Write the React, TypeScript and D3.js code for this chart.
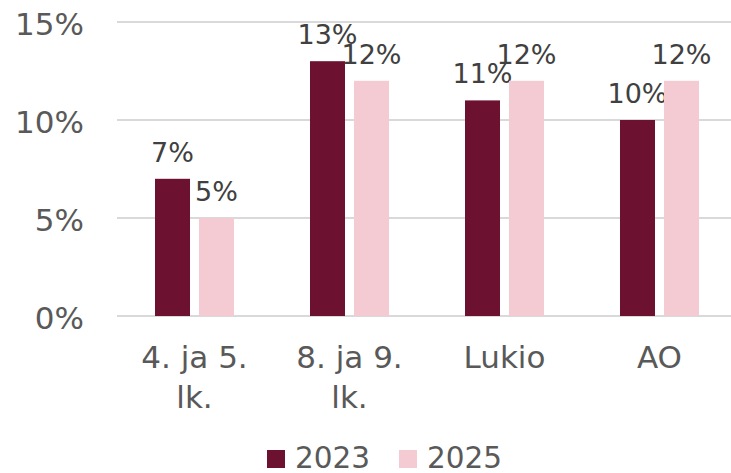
import React from "react";
import * as d3 from "d3";

const categories: string[][] = [["4. ja 5.", "lk."], ["8. ja 9.", "lk."], ["Lukio"], ["AO"]];
const categoryKeys = ["4. ja 5. lk.", "8. ja 9. lk.", "Lukio", "AO"];
const seriesNames = ["2023", "2025"];
const values2023 = [0.07, 0.13, 0.11, 0.10];
const values2025 = [0.05, 0.12, 0.12, 0.12];
const yTicks = [0, 0.05, 0.1, 0.15];
const colors = ["#6d1130", "#f4cbd3"];

const W = 731;
const H = 473;
const FONT = "'DejaVu Sans', Verdana, sans-serif";
const TEXT = "#595959";

export default function App() {
  const y = d3.scaleLinear().domain([0, 0.15]).range([316, 22]);
  const x = d3.scaleBand<string>().domain(categoryKeys).range([117, 737]).paddingInner(0.4903).paddingOuter(0.24516);
  const xs = d3.scaleBand<string>().domain(seriesNames).range([0, x.bandwidth()]).paddingInner(0.2045).paddingOuter(0);
  const seriesValues = [values2023, values2025];
  const pct = d3.format(".0%");

  return (
    <svg width={W} height={H} style={{ position: "absolute", left: 0, top: 0 }} fontFamily={FONT}>
      <rect width={W} height={H} fill="#fff" />
      {yTicks.map((t) => (
        <g key={t}>
          <line x1={117} x2={W} y1={y(t)} y2={y(t)} stroke="#d9d9d9" strokeWidth={2} />
          <text x={84} y={y(t) + 12.5} textAnchor="end" fontSize={31} fill={TEXT}>
            {pct(t)}
          </text>
        </g>
      ))}
      {categoryKeys.map((c, i) => (
        <g key={c}>
          {seriesNames.map((s, j) => {
            const v = seriesValues[j][i];
            const bx = (x(c) as number) + (xs(s) as number);
            return (
              <g key={s}>
                <rect x={bx} y={y(v)} width={xs.bandwidth()} height={y(0) - y(v)} fill={colors[j]} />
                <text x={bx + xs.bandwidth() / 2} y={y(v) - 17} textAnchor="middle" fontSize={27} fill="#404040">
                  {pct(v)}
                </text>
              </g>
            );
          })}
          {categories[i].map((line, k) => (
            <text key={k} x={(x(c) as number) + x.bandwidth() / 2} y={368 + k * 40} textAnchor="middle" fontSize={31} fill={TEXT}>
              {line}
            </text>
          ))}
        </g>
      ))}
      {seriesNames.map((s, j) => {
        const lx = j === 0 ? 267 : 399;
        return (
          <g key={s}>
            <rect x={lx} y={450} width={18} height={18} fill={colors[j]} />
            <text x={lx + 28} y={468} fontSize={29.5} fill={TEXT}>
              {s}
            </text>
          </g>
        );
      })}
    </svg>
  );
}
